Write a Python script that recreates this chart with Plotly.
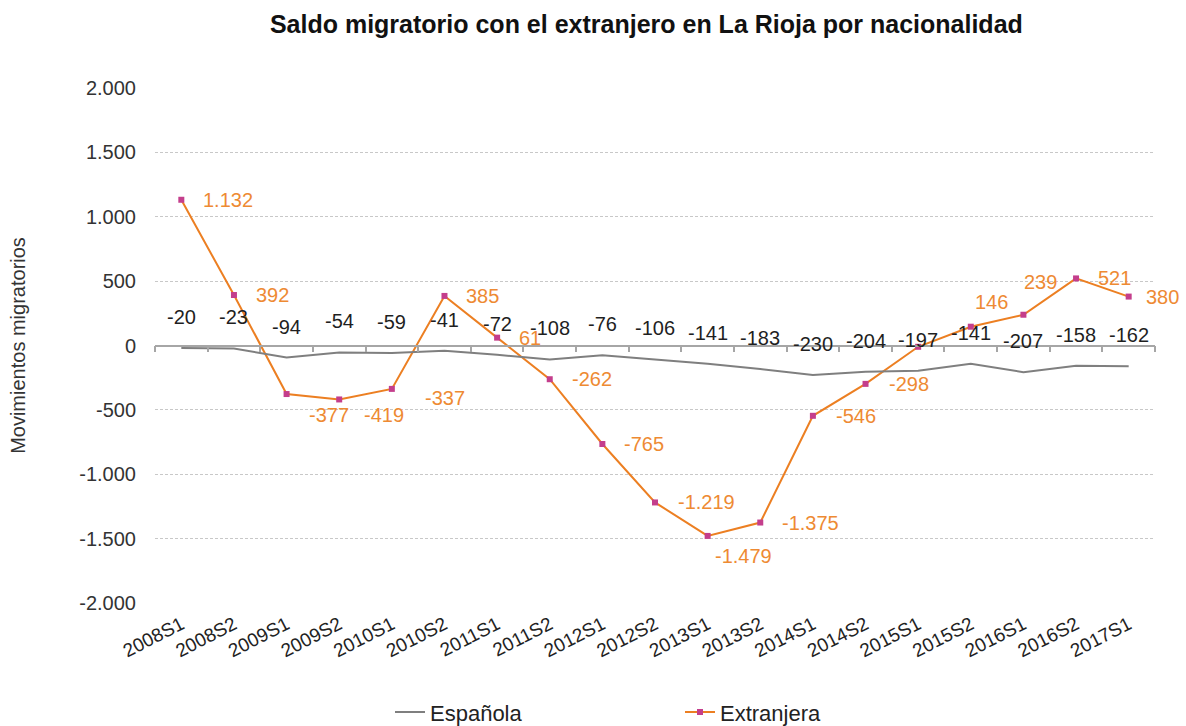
import plotly.graph_objects as go

categories = ["2008S1", "2008S2", "2009S1", "2009S2", "2010S1", "2010S2", "2011S1",
              "2011S2", "2012S1", "2012S2", "2013S1", "2013S2", "2014S1", "2014S2",
              "2015S1", "2015S2", "2016S1", "2016S2", "2017S1"]
espanola = [-20, -23, -94, -54, -59, -41, -72, -108, -76, -106, -141, -183, -230,
            -204, -197, -141, -207, -158, -162]
extranjera = [1132, 392, -377, -419, -337, 385, 61, -262, -765, -1219, -1479, -1375,
              -546, -298, -10, 146, 239, 521, 380]
# which extranjera labels are shown in the original (one is hidden)
extranjera_label_shown = [True] * 14 + [False] + [True] * 4
y_ticks = [-2000, -1500, -1000, -500, 0, 500, 1000, 1500, 2000]

# label offsets in pixels (style only): (xshift, yshift)
ext_offsets = [(20, 0), (20, 0), (20, -21), (23, -16), (31, -9), (20, 0), (20, 0),
               (20, 0), (20, 0), (21, 0), (5, -20), (20, 0), (21, 0), (21, 0),
               (20, 0), (2, 25), (-1, 33), (20, 0), (15, 0)]

def fmt(v):
    return f"{v:,}".replace(",", ".")

FONT = "Liberation Sans"
ORANGE = "#EC7F22"
ORANGE_TXT = "#EE8A33"
PINK = "#C43E8C"
GRAY = "#7F7F7F"

fig = go.Figure()
fig.add_trace(go.Scatter(
    x=categories, y=espanola, name="Española", mode="lines",
    line=dict(color=GRAY, width=2), xaxis="x2", yaxis="y"))
fig.add_trace(go.Scatter(
    x=categories, y=extranjera, name="Extranjera", mode="lines+markers",
    line=dict(color=ORANGE, width=2),
    marker=dict(symbol="square", size=6, color=PINK)))

annotations = []
for c, v in zip(categories, espanola):
    annotations.append(dict(x=c, y=v, xref="x", yref="y", text=fmt(v), showarrow=False,
                            xanchor="center", yanchor="middle", yshift=31,
                            font=dict(family=FONT, size=20, color="#1f1f1f")))
for c, v, shown, (dx, dy) in zip(categories, extranjera, extranjera_label_shown, ext_offsets):
    if not shown:
        continue
    annotations.append(dict(x=c, y=v, xref="x", yref="y", text=fmt(v), showarrow=False,
                            xanchor="left", yanchor="middle", xshift=dx, yshift=dy,
                            font=dict(family=FONT, size=20, color=ORANGE_TXT)))

fig.update_layout(
    width=1186, height=726,
    margin=dict(l=155, r=31, t=88, b=123, autoexpand=False),
    paper_bgcolor="white", plot_bgcolor="white",
    font=dict(family=FONT, size=18, color="#404040"),
    title=dict(text="<b>Saldo migratorio con el extranjero en La Rioja por nacionalidad</b>",
               x=0.545, xanchor="center", y=0.966, yanchor="middle",
               font=dict(family=FONT, size=25, color="#111111")),
    xaxis=dict(type="category", categoryorder="array", categoryarray=categories,
               range=[-0.5, 18.5], showgrid=False, showline=False, zeroline=False,
               automargin=False, ticklabelstandoff=6,
               ticks="", tickangle=-27, tickfont=dict(family=FONT, size=19, color="#222222")),
    xaxis2=dict(type="category", categoryorder="array", categoryarray=categories,
                range=[-0.5, 18.5], overlaying="x", anchor="free", position=0.5,
                side="bottom", showgrid=False, zeroline=False, showticklabels=False,
                automargin=False,
                showline=True, linecolor="#A6A6A6", linewidth=1.5,
                ticks="outside", tickson="boundaries", ticklen=6, tickcolor="#A6A6A6",
                tickwidth=1.5),
    yaxis=dict(range=[-2000, 2000], tickvals=y_ticks, ticktext=[fmt(t) for t in y_ticks],
               showgrid=True, gridcolor="#C8C8C8", griddash="3px,2px", gridwidth=1,
               zeroline=False, showline=False, ticks="", ticklabelstandoff=18,
               automargin=False,
               tickfont=dict(family=FONT, size=20, color="#333333"),
               title=dict(text="Movimientos migratorios", standoff=48,
                          font=dict(family=FONT, size=20, color="#333333"))),
    legend=dict(orientation="h", x=0.235, xanchor="left", y=-0.212, yanchor="middle",
                entrywidth=245, entrywidthmode="pixels",
                font=dict(family=FONT, size=22, color="#222222")),
    annotations=annotations,
)

fig.write_html("out.html", config={"displayModeBar": False},
               post_script="document.body.style.margin='0';")
